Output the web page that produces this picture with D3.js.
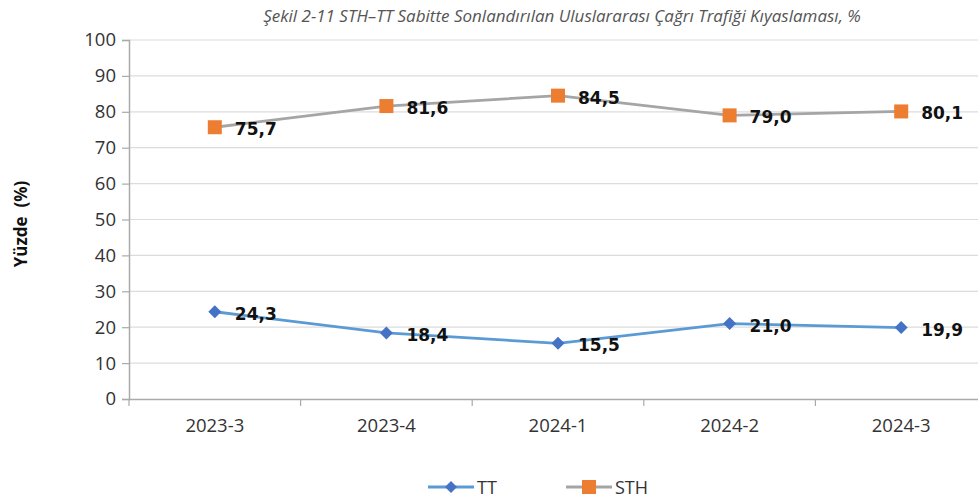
<!DOCTYPE html>
<html>
<head>
<meta charset="utf-8">
<script src="https://cdn.jsdelivr.net/npm/d3@7"></script>
<style>
  body { margin: 0; background: #fff; }
  svg { display: block; }
</style>
</head>
<body>
<script>
// Veriler
const categories = ["2023-3", "2023-4", "2024-1", "2024-2", "2024-3"];
const ttValues = [24.3, 18.4, 15.5, 21.0, 19.9];
const sthValues = [75.7, 81.6, 84.5, 79.0, 80.1];
const yTicks = [0, 10, 20, 30, 40, 50, 60, 70, 80, 90, 100];

const W = 978, H = 503;
const plotLeft = 129, plotRight = 987, plotTop = 40, plotBottom = 399;

const svg = d3.select("body").append("svg")
    .attr("width", W)
    .attr("height", H);

// Başlık
svg.append("text")
    .attr("x", 562)
    .attr("y", 22)
    .attr("text-anchor", "middle")
    .attr("font-family", "'Liberation Sans Narrow', 'Open Sans', sans-serif")
    .attr("font-style", "italic")
    .attr("font-size", "17px")
    .attr("fill", "#555")
    .text("Şekil 2-11 STH–TT Sabitte Sonlandırılan Uluslararası Çağrı Trafiği Kıyaslaması, %");

const x = d3.scaleBand()
    .domain(categories)
    .range([plotLeft, plotRight]);

const y = d3.scaleLinear()
    .domain([0, 100])
    .range([plotBottom, plotTop]);

// Yatay ızgara çizgileri
svg.append("g")
    .selectAll("line")
    .data(yTicks.filter(d => d > 0))
    .enter().append("line")
    .attr("x1", plotLeft)
    .attr("x2", W)
    .attr("y1", d => y(d))
    .attr("y2", d => y(d))
    .attr("stroke", "#dcdcdc")
    .attr("stroke-width", 1.2);

// Y ekseni
const yAxis = svg.append("g")
    .attr("transform", `translate(${plotLeft},0)`)
    .call(d3.axisLeft(y).tickValues(yTicks).tickSize(7).tickPadding(6));
yAxis.select(".domain").attr("stroke", "#aaa").attr("stroke-width", 1.5);
yAxis.selectAll(".tick line").attr("stroke", "#aaa").attr("stroke-width", 1.2);
yAxis.selectAll("text")
    .attr("font-family", "'Open Sans', sans-serif")
    .attr("font-size", "18.5px")
    .attr("fill", "#333");

// X ekseni
const xAxis = svg.append("g")
    .attr("transform", `translate(0,${plotBottom})`)
    .call(d3.axisBottom(x).tickSize(0).tickPadding(20));
xAxis.select(".domain").attr("stroke", "#aaa").attr("stroke-width", 1.5);
xAxis.selectAll("text")
    .attr("font-family", "'Open Sans', sans-serif")
    .attr("font-size", "18.5px")
    .attr("fill", "#333");

// Kategori sınır işaretleri
svg.append("g")
    .selectAll("line")
    .data(categories)
    .enter().append("line")
    .attr("x1", d => x(d))
    .attr("x2", d => x(d))
    .attr("y1", plotBottom)
    .attr("y2", plotBottom + 7)
    .attr("stroke", "#aaa")
    .attr("stroke-width", 1.2);

// Y ekseni başlığı
svg.append("text")
    .attr("transform", "translate(27,224) rotate(-90)")
    .attr("text-anchor", "middle")
    .attr("font-family", "'Open Sans', sans-serif")
    .attr("font-weight", "bold")
    .attr("font-size", "17px")
    .attr("fill", "#111")
    .attr("xml:space", "preserve")
    .text("Yüzde  (%)");

const cx = d => x(d) + x.bandwidth() / 2;
const line = d3.line()
    .x((d, i) => cx(categories[i]))
    .y(d => y(d));

const series = [
    { name: "TT", values: ttValues, line: "#5b9bd5", mark: "#4472c4", shape: "diamond" },
    { name: "STH", values: sthValues, line: "#a5a5a5", mark: "#ed7d31", shape: "square" }
];

const diamond = s => `M0,${-s}L${s},0L0,${s}L${-s},0Z`;

series.forEach(s => {
    svg.append("path")
        .datum(s.values)
        .attr("fill", "none")
        .attr("stroke", s.line)
        .attr("stroke-width", 2.8)
        .attr("d", line);

    const g = svg.append("g");
    if (s.shape === "diamond") {
        g.selectAll("path")
            .data(s.values)
            .enter().append("path")
            .attr("transform", (d, i) => `translate(${cx(categories[i])},${y(d)})`)
            .attr("d", diamond(6.5))
            .attr("fill", s.mark);
    } else {
        g.selectAll("rect")
            .data(s.values)
            .enter().append("rect")
            .attr("x", (d, i) => cx(categories[i]) - 7)
            .attr("y", d => y(d) - 7)
            .attr("width", 14)
            .attr("height", 14)
            .attr("fill", s.mark);
    }

    // Veri etiketleri
    svg.append("g")
        .selectAll("text")
        .data(s.values)
        .enter().append("text")
        .attr("x", (d, i) => cx(categories[i]) + 20)
        .attr("y", d => y(d) + 8)
        .attr("font-family", "'DejaVu Sans', sans-serif")
        .attr("font-weight", "bold")
        .attr("font-size", "17px")
        .attr("fill", "#111")
        .text(d => d.toFixed(1).replace(".", ","));
});

// Lejant
const legend = svg.append("g").attr("transform", "translate(428,487)");
series.forEach((s, i) => {
    const lg = legend.append("g").attr("transform", `translate(${i * 138},0)`);
    lg.append("line")
        .attr("x1", 0).attr("x2", 46)
        .attr("stroke", s.line)
        .attr("stroke-width", 2.8);
    if (s.shape === "diamond") {
        lg.append("path")
            .attr("transform", "translate(23,0)")
            .attr("d", diamond(6))
            .attr("fill", s.mark);
    } else {
        lg.append("rect")
            .attr("x", 16).attr("y", -7)
            .attr("width", 14).attr("height", 14)
            .attr("fill", s.mark);
    }
    lg.append("text")
        .attr("x", 49)
        .attr("y", 7)
        .attr("font-family", "'Open Sans', sans-serif")
        .attr("font-size", "18px")
        .attr("fill", "#333")
        .text(s.name);
});
</script>
</body>
</html>
